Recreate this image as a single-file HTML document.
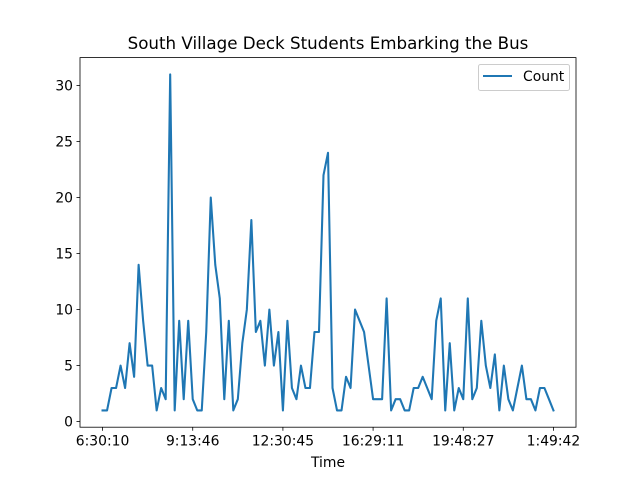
<!DOCTYPE html>
<html><head><meta charset="utf-8"><style>
html,body{margin:0;padding:0;background:#fff;}
svg{display:block;font-family:"DejaVu Sans","Liberation Sans",sans-serif;}
</style></head><body>
<svg id="chart" width="640" height="480" viewBox="0 0 640 480">
<rect width="640" height="480" fill="#fff"/>
<text x="328" y="49" text-anchor="middle" font-size="16.7" fill="#000">South Village Deck Students Embarking the Bus</text>
<g id="yticks"></g><g id="xticks"></g>
<path id="line" fill="none" stroke="#1f77b4" stroke-width="2.08" stroke-linejoin="round" stroke-linecap="square"/>
<rect x="80" y="57.6" width="496" height="369.6" fill="none" stroke="#000" stroke-width="0.8"/>
<text x="328" y="467" text-anchor="middle" font-size="13.9" fill="#000">Time</text>
<g>
<rect x="478.5" y="64.5" width="91" height="26" rx="2" fill="#fff" stroke="#ccc" stroke-width="1"/>
<line x1="483" y1="76" x2="512" y2="76" stroke="#1f77b4" stroke-width="2.08"/>
<text x="523" y="81" font-size="13.9" fill="#000">Count</text>
</g>
</svg>
<script>
const counts = [1,1,3,3,5,3,7,4,14,9,5,5,1,3,2,31,1,9,2,9,2,1,1,8,20,14,11,2,9,1,2,7,10,18,8,9,5,10,5,8,1,9,3,2,5,3,3,8,8,22,24,3,1,1,4,3,10,9,8,5,2,2,2,11,1,2,2,1,1,3,3,4,3,2,9,11,1,7,1,3,2,11,2,3,9,5,3,6,1,5,2,1,3,5,2,2,1,3,3,2,1];
const xTickIndex = [0,20,40,60,80,100];
const xTickLabels = ["6:30:10","9:13:46","12:30:45","16:29:11","19:48:27","1:49:42"];
const yTickValues = [0,5,10,15,20,25,30];

const L=80,R=576,T=57.6,B=427.2;
const n=counts.length;
const xmin=-(n-1)*0.05, xmax=(n-1)*1.05;
const dmin=Math.min(...counts), dmax=Math.max(...counts), pad=(dmax-dmin)*0.05;
const ymin=dmin-pad, ymax=dmax+pad;
const xs=i=>L+(i-xmin)/(xmax-xmin)*(R-L);
const ys=v=>B-(v-ymin)/(ymax-ymin)*(B-T);
const NS="http://www.w3.org/2000/svg";
function mk(tag,attrs,parent){const e=document.createElementNS(NS,tag);for(const k in attrs)e.setAttribute(k,attrs[k]);parent.appendChild(e);return e;}

document.getElementById('line').setAttribute('d',counts.map((v,i)=>(i?'L':'M')+xs(i).toFixed(2)+' '+ys(v).toFixed(2)).join(' '));

const yg=document.getElementById('yticks');
yTickValues.forEach(v=>{
  const y=ys(v);
  const t=mk('line',{x1:L-3.5,x2:L,y1:y,y2:y,stroke:'#000','stroke-width':0.8},yg);
  
  
  const lb=mk('text',{x:L-7,y:y+4.8,'text-anchor':'end','font-size':13.9,fill:'#000'},yg);
  lb.textContent=v;
  
  
});
const xg=document.getElementById('xticks');
xTickIndex.forEach((idx,k)=>{
  const x=xs(idx);
  const t=mk('line',{x1:x,x2:x,y1:B,y2:B+3.5,stroke:'#000','stroke-width':0.8},xg);
  
  
  const lb=mk('text',{x:x,y:B+18.5,'text-anchor':'middle','font-size':13.9,fill:'#000'},xg);
  lb.textContent=xTickLabels[k];
  
  
});
</script>
</body></html>
